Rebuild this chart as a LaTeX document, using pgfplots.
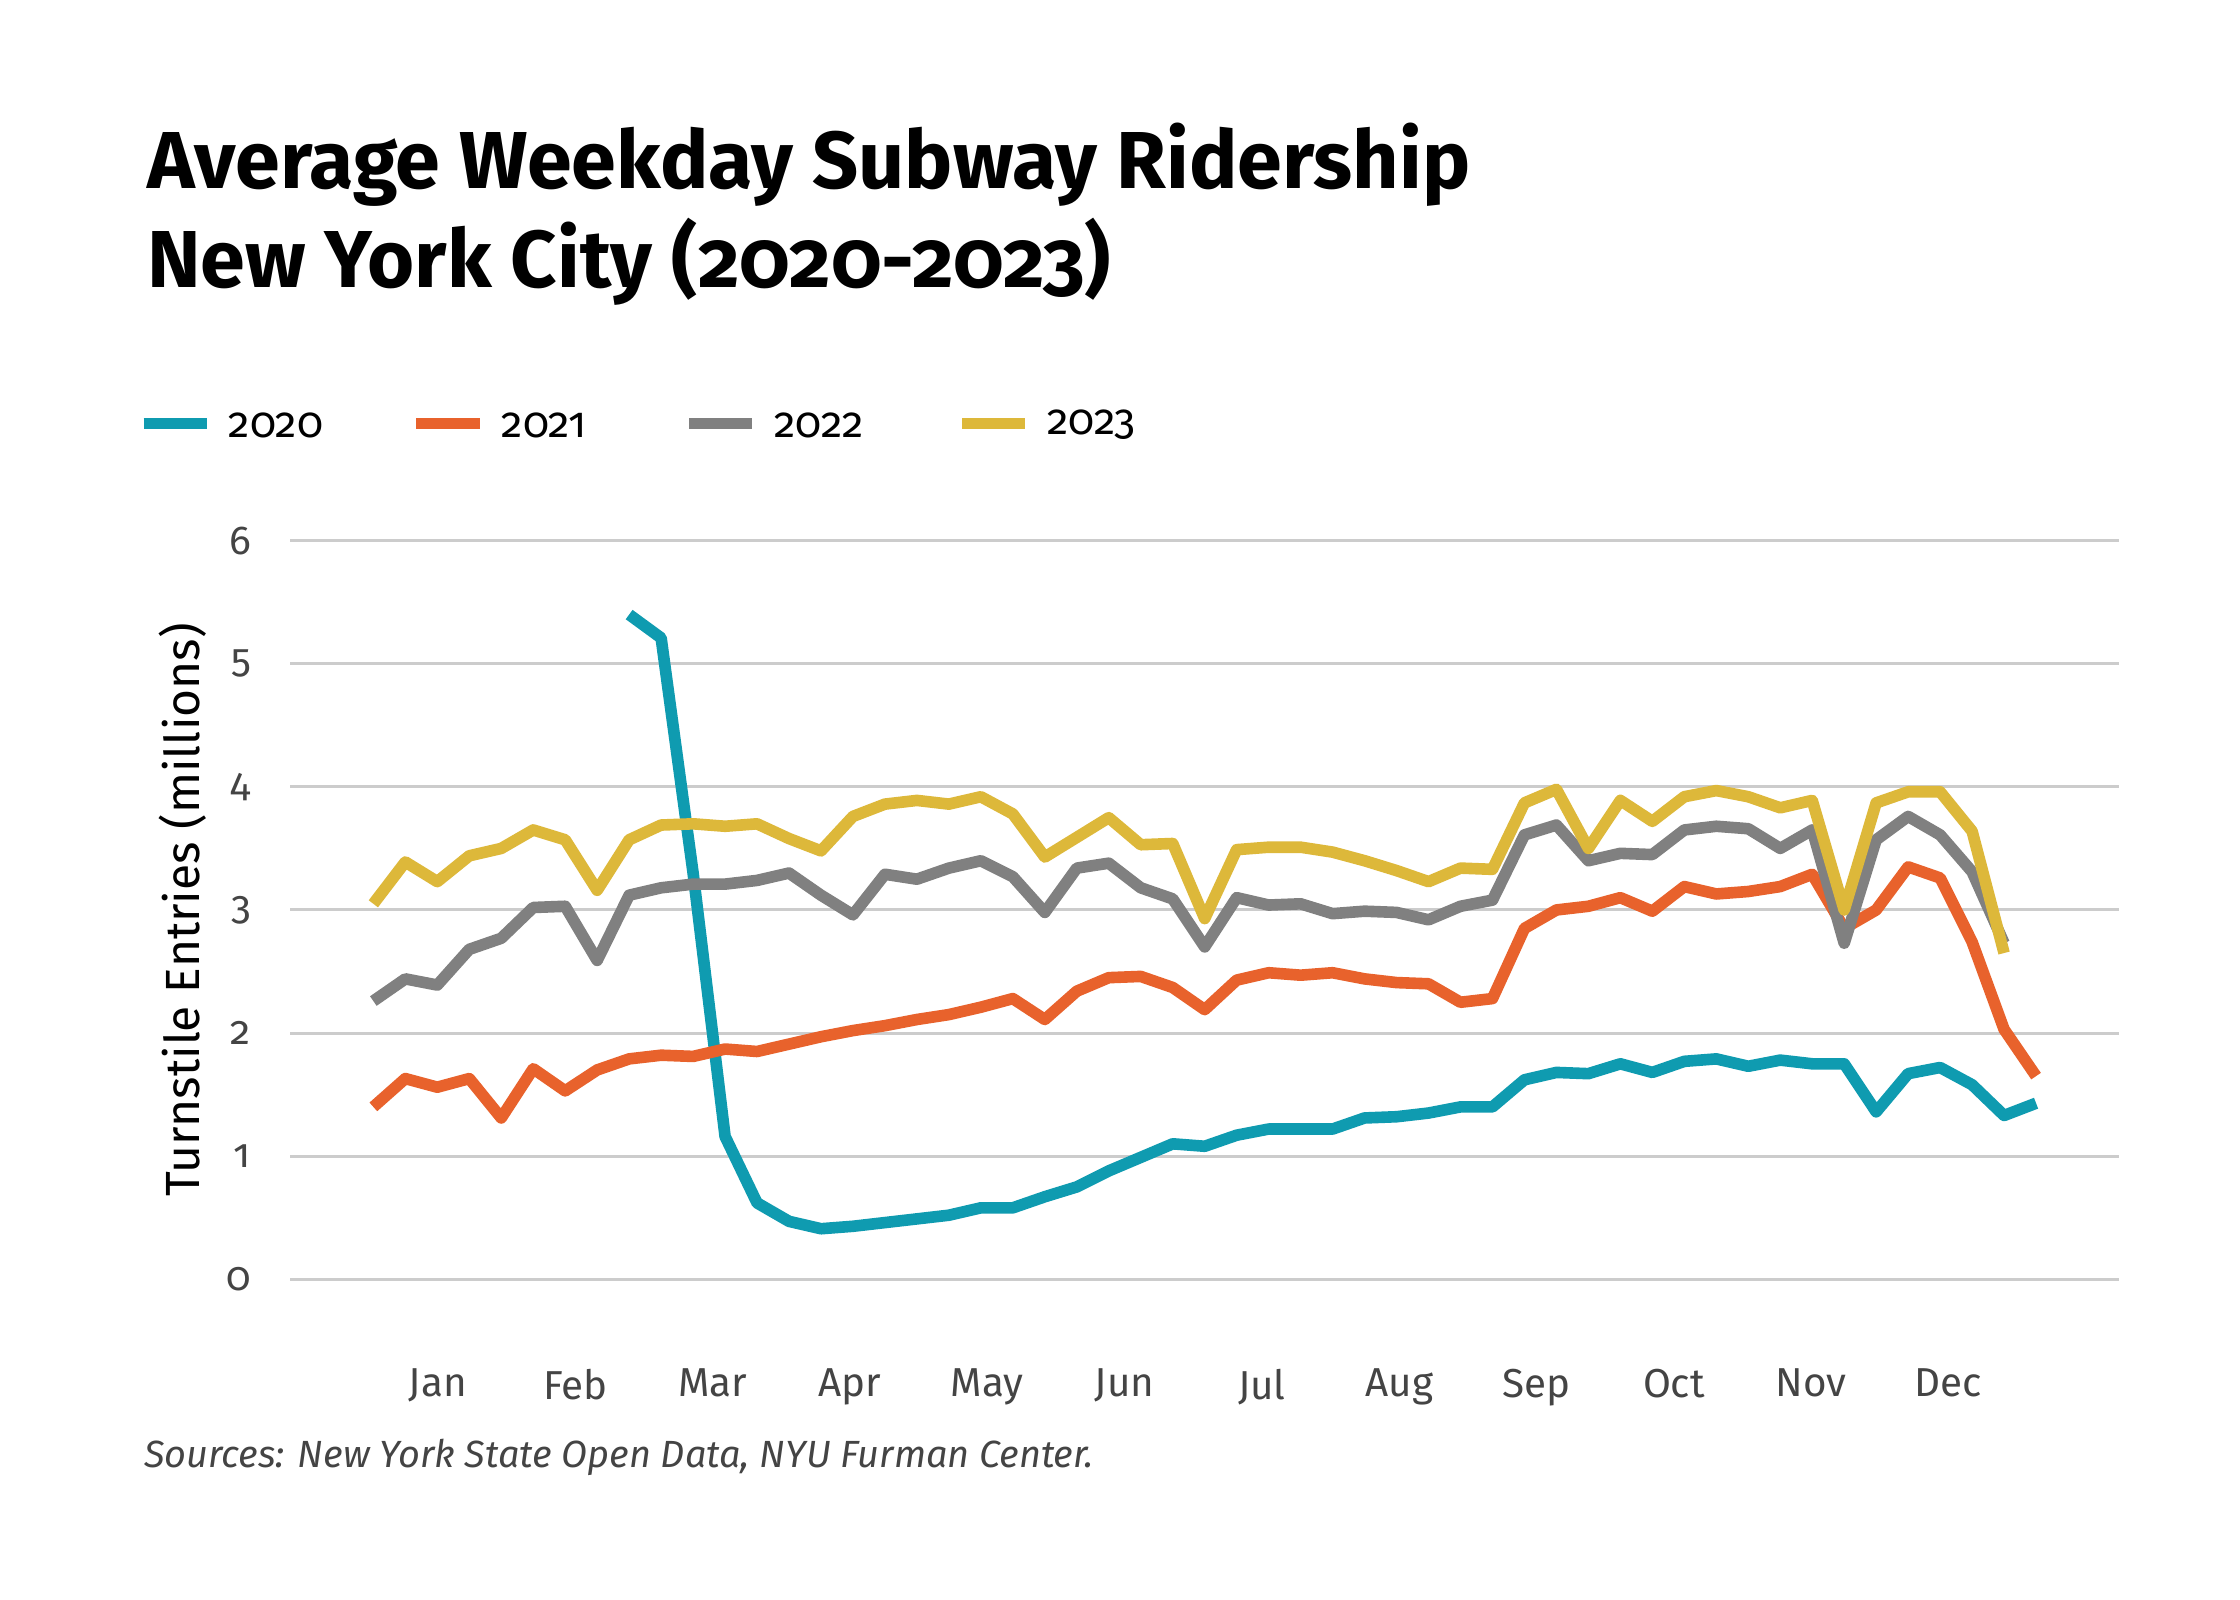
\documentclass[border=0pt]{standalone}
\usepackage{pgfplots}
\pgfplotsset{compat=1.18}
\usepackage{fontspec}
\setmainfont{Fira Sans}[Numbers=OldStyle]
\definecolor{cA}{HTML}{0F9BB0}
\definecolor{cB}{HTML}{E8622C}
\definecolor{cC}{HTML}{808080}
\definecolor{cD}{HTML}{DDB83A}
\definecolor{tx}{HTML}{444444}
\begin{document}
\begin{tikzpicture}[x=0.01cm,y=0.01cm]
\path[fill=white] (0,0) rectangle (1560,1114);
\node[anchor=west,font=\fontsize{16}{19}\selectfont\bfseries] at (90,999) {Average Weekday Subway Ridership};
\node[anchor=west,font=\fontsize{16}{19}\selectfont\bfseries] at (90,932) {New York City (2020-2023)};
\foreach \c/\t [count=\k from 0] in {cA/2020,cB/2021,cC/2022,cD/2023}{
 \draw[\c,line width=2.2pt] (100+\k*190,819) -- (144+\k*190,819);
 \node[anchor=west,font=\fontsize{8.5}{10}\selectfont] at (147+\k*190,818) {\t};
}
\node[anchor=west,font=\fontsize{7.5}{9}\selectfont\itshape,text=tx] at (88,99) {Sources: New York State Open Data, NYU Furman Center.};
\begin{axis}[at={(2.02cm,2.23cm)},anchor=south west,scale only axis,width=12.73cm,height=5.14cm,
 xmin=-2.6,xmax=54.6,ymin=0,ymax=6,axis line style={draw=none},
 ytick={0,1,...,6},ymajorgrids,grid style={draw=black!20,line width=0.6pt},
 xtick={2.02,6.315,10.61,14.905,19.2,23.495,27.79,32.085,36.38,40.675,44.97,49.265},
 xticklabels={Jan,Feb,Mar,Apr,May,Jun,Jul,Aug,Sep,Oct,Nov,Dec},
 major tick length=0pt,
 /pgf/number format/assume math mode=true,
 ticklabel style={font=\fontsize{8}{10}\selectfont,text=tx},
 xticklabel style={yshift=-0.5cm},
 yticklabel style={xshift=-0.15cm},
 ylabel={Turnstile Entries (millions)},ylabel style={font=\fontsize{9.5}{11}\selectfont,yshift=-0.1cm},
 every axis plot/.style={line width=2.3pt,line join=round}]
\addplot[cA] table[x expr=\coordindex+8,y index=0]{
5.40
5.21
3.30
1.16
0.62
0.47
0.41
0.43
0.46
0.49
0.52
0.58
0.58
0.67
0.75
0.88
0.99
1.10
1.08
1.17
1.22
1.22
1.22
1.31
1.32
1.35
1.40
1.40
1.62
1.68
1.67
1.75
1.68
1.77
1.79
1.73
1.78
1.75
1.75
1.36
1.67
1.72
1.58
1.33
1.43
};
\addplot[cB] table[x expr=\coordindex,y index=0]{
1.40
1.63
1.56
1.63
1.31
1.71
1.53
1.70
1.79
1.82
1.81
1.87
1.85
1.91
1.97
2.02
2.06
2.11
2.15
2.21
2.28
2.11
2.34
2.45
2.46
2.37
2.19
2.43
2.49
2.47
2.49
2.44
2.41
2.40
2.25
2.28
2.85
3.00
3.03
3.10
2.99
3.19
3.13
3.15
3.19
3.29
2.85
3.00
3.35
3.26
2.74
2.03
1.65
};
\addplot[cC] table[x expr=\coordindex,y index=0]{
2.26
2.44
2.39
2.68
2.77
3.02
3.03
2.59
3.12
3.18
3.21
3.21
3.24
3.30
3.12
2.96
3.29
3.25
3.34
3.40
3.27
2.98
3.34
3.38
3.18
3.09
2.70
3.10
3.04
3.05
2.97
2.99
2.98
2.92
3.03
3.08
3.61
3.69
3.40
3.46
3.45
3.65
3.68
3.66
3.50
3.65
2.73
3.57
3.76
3.61
3.31
2.73
};
\addplot[cD] table[x expr=\coordindex,y index=0]{
3.05
3.39
3.23
3.44
3.50
3.65
3.57
3.16
3.57
3.69
3.70
3.68
3.70
3.58
3.48
3.76
3.86
3.89
3.86
3.92
3.78
3.43
3.59
3.75
3.53
3.54
2.93
3.49
3.51
3.51
3.47
3.40
3.32
3.23
3.34
3.33
3.87
3.98
3.50
3.89
3.72
3.92
3.97
3.92
3.83
3.89
3.00
3.87
3.96
3.96
3.64
2.65
};
\end{axis}
\end{tikzpicture}
\end{document}
